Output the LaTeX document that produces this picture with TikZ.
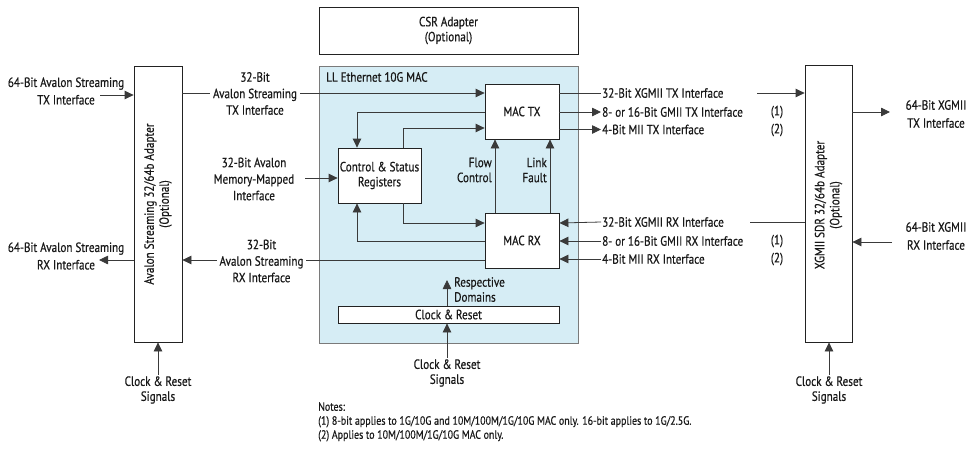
\documentclass[tikz,border=0pt]{standalone}
\usepackage{fontspec}
\setmainfont{PT Sans}[FakeStretch=0.83, FakeBold=0.5]
\usetikzlibrary{arrows.meta}
\definecolor{llblue}{HTML}{D6EDF5}
\definecolor{lnc}{HTML}{3A3A3A}
\definecolor{boxc}{HTML}{222222}
\definecolor{llbord}{HTML}{7A7A7A}
\begin{document}
\begin{tikzpicture}[x=1pt,y=-1pt,
  every node/.style={font=\fontsize{13.4}{16.5}\selectfont, inner sep=1pt, text=black!90},
  box/.style={draw=boxc, line width=0.8pt, fill=white, minimum width=#1, inner sep=0pt},
  conn/.style={draw=lnc, line width=0.8pt},
  arr/.style={conn, -{Triangle[length=9pt,width=8.5pt]}},
  lbl/.style={align=center, fill=white, inner sep=3pt},
  tl/.style={anchor=west, inner sep=1pt},
  two/.style={font=\fontsize{13.4}{15}\selectfont}]
\useasboundingbox (0,0) rectangle (968,448);

% ---------- boxes ----------
\node[box=48, minimum height=276] (la) at (158,204) {};
\node[rotate=90, align=center, two] (latxt) at (158,204) {Avalon Streaming 32/64b Adapter\\(Optional)};

\node[box=259, minimum height=47, align=center, two] (csra) at (448.5,30.5) {CSR Adapter\\(Optional)};
\node[draw=llbord, line width=0.8pt, fill=llblue, minimum width=259, minimum height=277, inner sep=0pt] (ll) at (448.5,204.5) {};
\node[anchor=west] (lltxt) at (325,77) {LL Ethernet 10G MAC};

\node[box=74, minimum height=55] (mactx) at (522,111.5) {MAC TX};
\node[box=83, minimum height=55, align=center, two] (csr) at (379.5,175.5) {Control \& Status\\Registers};
\node[box=74, minimum height=55] (macrx) at (522,240.5) {MAC RX};
\node[box=221, minimum height=17] (cr) at (448.5,314.5) {Clock \& Reset};

\node[box=47, minimum height=277] (xa) at (828.5,203.5) {};
\node[rotate=90, align=center, two] (xatxt) at (828.5,205) {XGMII SDR 32/64b Adapter\\(Optional)};

% ---------- left side ----------
\node[align=center, font=\fontsize{13.4}{17.5}\selectfont] (l64tx) at (66,91) {64-Bit Avalon Streaming\\TX Interface};
\coordinate (c64tx) at (100,95);
\draw[arr] (c64tx) -- (c64tx -| la.west);

\node[align=center, font=\fontsize{13.4}{17.5}\selectfont] (l64rx) at (66,256) {64-Bit Avalon Streaming\\RX Interface};
\coordinate (c64rx) at (99,260);
\draw[arr] (c64rx -| la.west) -- (c64rx);

\node[align=center, two] (crl) at (158,390) {Clock \& Reset\\Signals};
\draw[arr] (crl.north) -- (la.south);

% 32-bit TX
\coordinate (ytx) at (0,93);
\draw[arr] (ytx -| la.east) -- (ytx -| mactx.west);
\node[lbl] (s32tx) at (255,93.5) {32-Bit\\Avalon Streaming\\TX Interface};

% memory mapped
\node[align=center] (mm) at (254,179) {32-Bit Avalon\\Memory-Mapped\\Interface};
\coordinate (c32mm) at (305,178);
\draw[arr] (c32mm) -- (c32mm -| csr.west);

% 32-bit RX
\coordinate (yrx) at (0,260);
\draw[arr] (yrx -| macrx.west) -- (yrx -| la.east);
\node[lbl] (s32rx) at (261.5,261) {32-Bit\\Avalon Streaming\\RX Interface};

% ---------- inside MAC ----------
\coordinate (y112) at (0,112);
\coordinate (y128) at (0,128);
\coordinate (y223) at (0,223);
\coordinate (y241) at (0,241);
\draw[arr] (y112 -| mactx.west) -| ([xshift=-22.5pt]csr.north);
\draw[arr] ([xshift=23.5pt]csr.north) |- (y128 -| mactx.west);
\draw[arr] ([xshift=23.5pt]csr.south) |- (y223 -| macrx.west);
\draw[arr] (y241 -| macrx.west) -| ([xshift=-22.5pt]csr.south);

\draw[arr] ([xshift=-27pt]macrx.north) -- ([xshift=-27pt]mactx.south);
\draw[arr] ([xshift=28pt]macrx.north) -- ([xshift=28pt]mactx.south);
\node[anchor=east, align=right, two] (flow) at (493,170) {Flow\\Control};
\node[anchor=east, align=right, two] (link) at (548,170) {Link\\Fault};

\coordinate (rd) at (447,280);
\draw[arr] (cr.north -| rd) -- (rd);
\node[anchor=west, align=left, two] (rdtxt) at (453,289.5) {Respective\\Domains};

\node[align=center, two] (crc) at (447,373) {Clock \& Reset\\Signals};
\draw[arr] (crc.north) -- (crc.north |- cr.south);

% ---------- right side ----------
\node[tl] (xtx) at (601,93) {32-Bit XGMII TX Interface};
\draw[conn] (ytx -| mactx.east) -- (xtx.west);
\coordinate (cxtx) at (757,93);
\draw[arr] (cxtx) -- (cxtx -| xa.west);

\node[tl] (gtx) at (601,112) {8- or 16-Bit GMII TX Interface};
\draw[arr] (y112 -| mactx.east) -- (gtx.west);
\node (n1a) at (777,112) {(1)};

\coordinate (y129) at (0,129.5);
\node[tl] (mtx) at (601,129.5) {4-Bit MII TX Interface};
\draw[arr] (y129 -| mactx.east) -- (mtx.west);
\node (n2a) at (777,130) {(2)};

\node[tl] (xrx) at (601,222) {32-Bit XGMII RX Interface};
\draw[arr] (xrx.west) -- (y223 -| macrx.east);
\coordinate (cxrx) at (750,222);
\draw[conn] (cxrx) -- (cxrx -| xa.west);

\node[tl] (grx) at (601,241) {8- or 16-Bit GMII RX Interface};
\draw[arr] (grx.west) -- (y241 -| macrx.east);
\node (n1b) at (777,241) {(1)};

\coordinate (y259) at (0,259);
\node[tl] (mrx) at (601,259) {4-Bit MII RX Interface};
\draw[arr] (mrx.west) -- (y259 -| macrx.east);
\node (n2b) at (777,259) {(2)};

\node[align=center, font=\fontsize{13.4}{18}\selectfont] (x64tx) at (936,114) {64-Bit XGMII\\TX Interface};
\coordinate (cx64tx) at (890,112);
\draw[arr] (cx64tx -| xa.east) -- (cx64tx);

\node[align=center, font=\fontsize{13.4}{18}\selectfont] (x64rx) at (936,236) {64-Bit XGMII\\RX Interface};
\coordinate (cx64rx) at (892,242);
\draw[arr] (cx64rx) -- (cx64rx -| xa.east);

\node[align=center, two] (crr) at (829,390) {Clock \& Reset\\Signals};
\draw[arr] (crr.north) -- (crr.north |- xa.south);

% ---------- notes ----------
\node[anchor=north west, align=left, font=\fontsize{12}{14}\selectfont] (notes) at (317,401) {Notes:\\(1) 8-bit applies to 1G/10G and 10M/100M/1G/10G MAC only. 16-bit applies to 1G/2.5G.\\(2) Applies to 10M/100M/1G/10G MAC only.};
\end{tikzpicture}
\end{document}
